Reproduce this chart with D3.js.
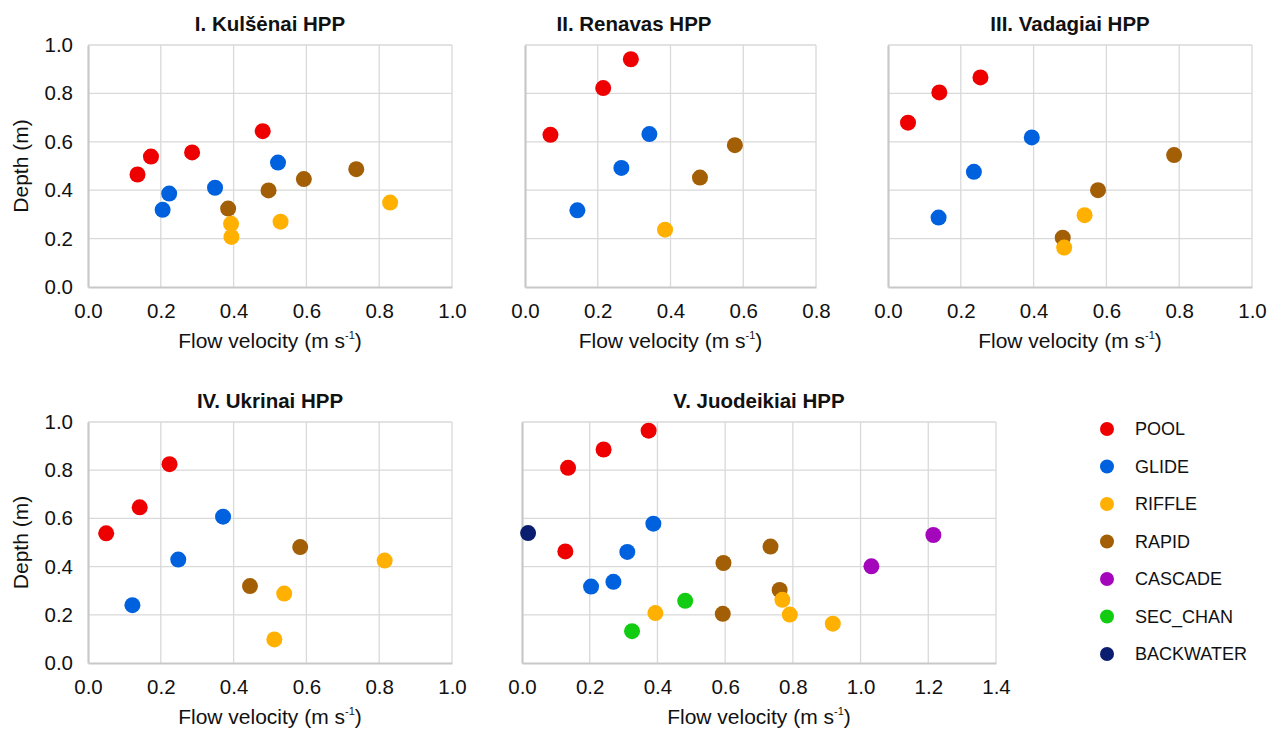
<!DOCTYPE html>
<html>
<head>
<meta charset="utf-8">
<script src="https://cdn.jsdelivr.net/npm/d3@7"></script>
<style>
  body { margin: 0; background: #fff; }
  svg text { font-family: "Liberation Sans", Arial, sans-serif; fill: #111; }
</style>
</head>
<body>
<div id="app"></div>
<script>
// categories and colours
const classes = ["POOL", "GLIDE", "RIFFLE", "RAPID", "CASCADE", "SEC_CHAN", "BACKWATER"];
const classColors = ["#ee0000", "#0061de", "#ffb000", "#a35f05", "#a407bb", "#12cc12", "#0b1d6e"];

const titles = ["I. Kulšėnai HPP", "II. Renavas HPP", "III. Vadagiai HPP", "IV. Ukrinai HPP", "V. Juodeikiai HPP"];
const xMax = [1.0, 0.8, 1.0, 1.0, 1.4];

// [class, flow velocity (m/s), depth (m)]
const kulsenai = [
  ["POOL", 0.136, 0.465], ["POOL", 0.173, 0.539], ["POOL", 0.286, 0.556], ["POOL", 0.480, 0.644],
  ["GLIDE", 0.205, 0.319], ["GLIDE", 0.223, 0.386], ["GLIDE", 0.349, 0.410], ["GLIDE", 0.522, 0.514],
  ["RAPID", 0.385, 0.324], ["RAPID", 0.496, 0.399], ["RAPID", 0.593, 0.446], ["RAPID", 0.737, 0.487],
  ["RIFFLE", 0.393, 0.261], ["RIFFLE", 0.394, 0.207], ["RIFFLE", 0.529, 0.270], ["RIFFLE", 0.830, 0.349]
];
const renavas = [
  ["POOL", 0.291, 0.941], ["POOL", 0.215, 0.822], ["POOL", 0.070, 0.629],
  ["GLIDE", 0.342, 0.632], ["GLIDE", 0.265, 0.492], ["GLIDE", 0.144, 0.317],
  ["RAPID", 0.577, 0.586], ["RAPID", 0.481, 0.452],
  ["RIFFLE", 0.385, 0.237]
];
const vadagiai = [
  ["POOL", 0.055, 0.679], ["POOL", 0.141, 0.804], ["POOL", 0.254, 0.866],
  ["GLIDE", 0.395, 0.618], ["GLIDE", 0.236, 0.476], ["GLIDE", 0.139, 0.287],
  ["RAPID", 0.786, 0.545], ["RAPID", 0.577, 0.400], ["RAPID", 0.480, 0.204],
  ["RIFFLE", 0.540, 0.297], ["RIFFLE", 0.484, 0.163]
];
const ukrinai = [
  ["POOL", 0.050, 0.538], ["POOL", 0.142, 0.646], ["POOL", 0.224, 0.825],
  ["GLIDE", 0.371, 0.607], ["GLIDE", 0.248, 0.429], ["GLIDE", 0.122, 0.240],
  ["RAPID", 0.583, 0.481], ["RAPID", 0.445, 0.319],
  ["RIFFLE", 0.815, 0.425], ["RIFFLE", 0.539, 0.288], ["RIFFLE", 0.512, 0.098]
];
const juodeikiai = [
  ["POOL", 0.374, 0.964], ["POOL", 0.241, 0.886], ["POOL", 0.136, 0.810], ["POOL", 0.128, 0.463],
  ["GLIDE", 0.388, 0.578], ["GLIDE", 0.311, 0.461], ["GLIDE", 0.270, 0.337], ["GLIDE", 0.204, 0.317],
  ["RAPID", 0.734, 0.483], ["RAPID", 0.595, 0.415], ["RAPID", 0.761, 0.303], ["RAPID", 0.593, 0.204],
  ["RIFFLE", 0.769, 0.262], ["RIFFLE", 0.791, 0.201], ["RIFFLE", 0.918, 0.163], ["RIFFLE", 0.394, 0.207],
  ["SEC_CHAN", 0.482, 0.258], ["SEC_CHAN", 0.325, 0.132],
  ["CASCADE", 1.215, 0.531], ["CASCADE", 1.032, 0.401],
  ["BACKWATER", 0.018, 0.539]
];
const panelData = [kulsenai, renavas, vadagiai, ukrinai, juodeikiai];

// plot-area boxes (pixels)
const boxes = [
  { l: 88, r: 452, t: 45, b: 287, yAxis: true, titleX: 270 },
  { l: 525, r: 816, t: 45, b: 287, yAxis: false, titleX: 634 },
  { l: 888, r: 1252, t: 45, b: 287, yAxis: false, titleX: 1070 },
  { l: 88, r: 452, t: 422, b: 663, yAxis: true, titleX: 270 },
  { l: 522, r: 996, t: 422, b: 663, yAxis: false, titleX: 759 }
];

const color = d3.scaleOrdinal().domain(classes).range(classColors);

const svg = d3.select("#app").append("svg")
  .attr("width", 1272).attr("height", 731);

panelData.forEach((data, i) => {
  const bx = boxes[i];
  const x = d3.scaleLinear().domain([0, xMax[i]]).range([bx.l, bx.r]);
  const y = d3.scaleLinear().domain([0, 1]).range([bx.b, bx.t]);
  const xTicks = d3.range(0, xMax[i] + 0.001, 0.2);
  const yTicks = d3.range(0, 1.001, 0.2);
  const g = svg.append("g");

  // grid
  g.append("g").selectAll("line").data(xTicks.slice(1)).join("line")
    .attr("x1", d => x(d)).attr("x2", d => x(d))
    .attr("y1", bx.t).attr("y2", bx.b)
    .attr("stroke", "#d9d9d9").attr("stroke-width", 1.3);
  g.append("g").selectAll("line").data(yTicks.slice(1)).join("line")
    .attr("x1", bx.l).attr("x2", bx.r)
    .attr("y1", d => y(d)).attr("y2", d => y(d))
    .attr("stroke", "#d9d9d9").attr("stroke-width", 1.3);

  // axes
  const xAxis = g.append("g").attr("transform", `translate(0,${bx.b})`)
    .call(d3.axisBottom(x).tickValues(xTicks).tickFormat(d3.format(".1f")).tickSize(0).tickPadding(16));
  xAxis.select(".domain").attr("stroke", "#c8c8c8").attr("stroke-width", 2.2);
  xAxis.selectAll("text").attr("font-size", 20.5).attr("fill", "#111");

  const yAxis = g.append("g").attr("transform", `translate(${bx.l},0)`)
    .call(d3.axisLeft(y).tickValues(yTicks).tickFormat(d3.format(".1f")).tickSize(0).tickPadding(15));
  yAxis.select(".domain").attr("stroke", "#c8c8c8").attr("stroke-width", 2.2);
  yAxis.selectAll("text").attr("font-size", 20.5).attr("fill", "#111")
    .style("display", bx.yAxis ? null : "none");

  // title
  g.append("text").attr("x", bx.titleX).attr("y", bx.t - 14)
    .attr("text-anchor", "middle").attr("font-size", 20.5).attr("font-weight", "bold")
    .text(titles[i]);

  // x-axis title
  const xt = g.append("text").attr("x", (bx.l + bx.r) / 2).attr("y", bx.b + 61)
    .attr("text-anchor", "middle").attr("font-size", 21);
  xt.append("tspan").text("Flow velocity (m s");
  xt.append("tspan").attr("font-size", 11).attr("dy", -9).text("-1");
  xt.append("tspan").attr("dy", 9).text(")");

  if (bx.yAxis) {
    g.append("text")
      .attr("transform", `translate(28,${(bx.t + bx.b) / 2}) rotate(-90)`)
      .attr("text-anchor", "middle").attr("font-size", 21)
      .text("Depth (m)");
  }

  // points
  g.append("g").selectAll("circle").data(data).join("circle")
    .attr("cx", d => x(d[1])).attr("cy", d => y(d[2]))
    .attr("r", 8).attr("fill", d => color(d[0]));
});

// legend
const legend = svg.append("g").attr("transform", "translate(1107,429)");
const item = legend.selectAll("g").data(classes).join("g")
  .attr("transform", (d, i) => `translate(0,${i * 37.5})`);
item.append("circle").attr("r", 7).attr("fill", d => color(d));
item.append("text").attr("x", 28).attr("dy", "0.36em")
  .attr("font-size", 18).text(d => d);
</script>
</body>
</html>
